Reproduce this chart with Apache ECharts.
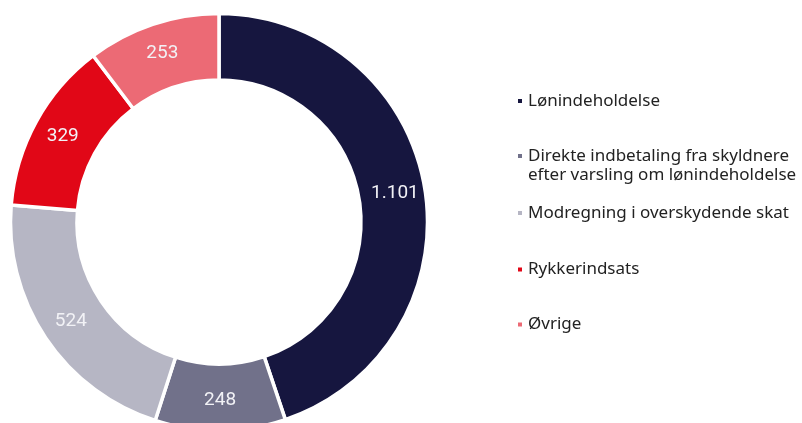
<!DOCTYPE html>
<html>
<head>
<meta charset="utf-8">
<script src="https://cdn.jsdelivr.net/npm/echarts@6/dist/echarts.min.js"></script>
<style>
  html, body { margin: 0; padding: 0; background: #fff; }
  #chart { width: 802px; height: 423px; }
</style>
</head>
<body>
<div id="chart"></div>
<script>
// data
var categories = [
  'Lønindeholdelse',
  'Direkte indbetaling fra skyldnere\nefter varsling om lønindeholdelse',
  'Modregning i overskydende skat',
  'Rykkerindsats',
  'Øvrige'
];
var values = [1101, 248, 524, 329, 253];
var valueLabels = ['1.101', '248', '524', '329', '253'];
var colors = ['#16163f', '#71718a', '#b6b6c4', '#e10717', '#ec6a75'];

// legend top per item (spacing in the source is not even)
var legendTops = [91.5, 127.5, 203.5, 260, 315];

drawDonut();

function drawDonut() {
  var myChart = echarts.init(document.getElementById('chart'));

  // one legend per entry so each can sit where it sits in the source
  var legends = categories.map(function (name, i) {
    var twoLine = name.indexOf('\n') >= 0;
    return {
      left: 516,
      top: legendTops[i],
      padding: 0,
      orient: 'vertical',
      itemWidth: 6,
      itemHeight: 6,
      icon: 'rect',
      selectedMode: false,
      data: [name],
      // empty first line keeps the icon level with the first text line
      formatter: function (n) {
        return twoLine ? '\n' + n : n;
      },
      textStyle: {
        fontFamily: 'Noto Sans',
        fontSize: 17,
        lineHeight: 19,
        color: '#222'
      }
    };
  });

  var option = {
    animation: false,
    color: colors,
    legend: legends,
    series: [{
      name: 'Inddrivelse',
      type: 'pie',
      center: [219, 222],
      radius: [142, 208.5],
      startAngle: 90,
      clockwise: true,
      avoidLabelOverlap: false,
      itemStyle: {
        borderColor: '#fff',
        borderWidth: 3.5
      },
      label: {
        show: true,
        position: 'inside',
        fontFamily: 'Roboto',
        fontSize: 19,
        color: '#f2f2f6',
        formatter: function (p) {
          return valueLabels[p.dataIndex];
        }
      },
      labelLine: { show: false },
      data: categories.map(function (name, i) {
        return { name: name, value: values[i] };
      })
    }]
  };

  myChart.setOption(option);
}
</script>
</body>
</html>
